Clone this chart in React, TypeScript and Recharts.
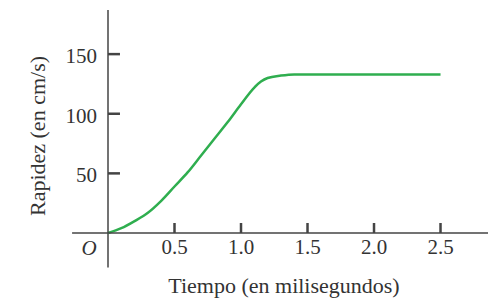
import { LineChart, Line, XAxis, YAxis, ReferenceLine } from "recharts";

// tiempo (ms) and rapidez (cm/s)
const tiempo = [0, 0.1, 0.2, 0.3, 0.4, 0.5, 0.6, 0.7, 0.8, 0.9, 1.0, 1.1, 1.15, 1.2, 1.3, 1.4, 1.5, 1.75, 2.0, 2.25, 2.5];
const rapidez = [0, 4, 10, 17, 27, 39, 51, 65, 79, 93, 108, 122, 127, 130, 132, 133, 133, 133, 133, 133, 133];

const xTicks = [0, 0.5, 1.0, 1.5, 2.0, 2.5];
const xTickLabels = ["O", "0.5", "1.0", "1.5", "2.0", "2.5"];
const yTicks = [50, 100, 150];

const xTitle = "Tiempo (en milisegundos)";
const yTitle = "Rapidez (en cm/s)";

const data = tiempo.map((t, i) => ({ t, v: rapidez[i] }));

// the axes run a little past the origin; tick marks point inward
const xMin = -0.27;
const yMin = -29;
const xTickLen = 8.4; // in rapidez units
const yTickLen = 0.09; // in tiempo units

const FONT = '"Liberation Serif", "Times New Roman", serif';
const INK = "#333333";
const AXIS = "#444444";

const XTick = (props: any) => {
  const { x, y, payload, index } = props;
  const italic = payload.value === 0;
  return (
    <text
      x={italic ? x - 19 : x}
      y={y + (italic ? 22 : 21)}
      textAnchor="middle"
      fontFamily={FONT}
      fontStyle={italic ? "italic" : "normal"}
      fontSize={21}
      fill={INK}
    >
      {xTickLabels[index]}
    </text>
  );
};

const YTick = (props: any) => {
  const { x, y, payload } = props;
  return (
    <text x={x - 11} y={y + 9} textAnchor="end" fontFamily={FONT} fontSize={21} fill={INK}>
      {payload.value}
    </text>
  );
};

const titleStyle: any = {
  position: "absolute",
  fontFamily: FONT,
  fontSize: 22,
  lineHeight: "22px",
  color: INK,
  whiteSpace: "nowrap",
  textAlign: "center",
};

export default function App() {
  return (
    <div style={{ position: "absolute", left: 0, top: 0, width: 493, height: 301, background: "#fff" }}>
      <LineChart width={493} height={301} data={data} margin={{ top: 10, right: 5, bottom: 38, left: 0 }}>
        <XAxis
          dataKey="t"
          type="number"
          domain={[0, 2.857]}
          ticks={xTicks}
          tick={<XTick />}
          tickLine={false}
          tickSize={0}
          tickMargin={0}
          height={30}
          axisLine={{ stroke: AXIS, strokeWidth: 1.5 }}
        />
        <YAxis
          type="number"
          domain={[0, 187]}
          ticks={yTicks}
          tick={<YTick />}
          tickLine={false}
          tickSize={0}
          tickMargin={0}
          width={108}
          axisLine={{ stroke: AXIS, strokeWidth: 1.5 }}
        />
        <ReferenceLine
          segment={[{ x: xMin, y: 0 }, { x: 0, y: 0 }]}
          stroke={AXIS}
          strokeWidth={1.5}
          ifOverflow="visible"
        />
        <ReferenceLine
          segment={[{ x: 0, y: 0 }, { x: 0, y: yMin }]}
          stroke={AXIS}
          strokeWidth={1.5}
          ifOverflow="visible"
        />
        {xTicks
          .filter((t) => t > 0)
          .map((t) => (
            <ReferenceLine
              key={`xt${t}`}
              segment={[{ x: t, y: 0 }, { x: t, y: xTickLen }]}
              stroke={AXIS}
              strokeWidth={2.5}
              ifOverflow="visible"
            />
          ))}
        {yTicks.map((v) => (
          <ReferenceLine
            key={`yt${v}`}
            segment={[{ x: 0, y: v }, { x: yTickLen, y: v }]}
            stroke={AXIS}
            strokeWidth={2.5}
            ifOverflow="visible"
          />
        ))}
        <Line
          type="monotone"
          dataKey="v"
          stroke="#2fae4f"
          strokeWidth={2.5}
          dot={false}
          isAnimationActive={false}
        />
      </LineChart>
      <div style={{ ...titleStyle, left: 0, top: 275, width: 568 }}>{xTitle}</div>
      <div
        style={{
          ...titleStyle,
          left: 38 - 100,
          top: 136 - 11,
          width: 200,
          height: 22,
          transform: "rotate(-90deg)",
          transformOrigin: "center",
        }}
      >
        {yTitle}
      </div>
    </div>
  );
}
